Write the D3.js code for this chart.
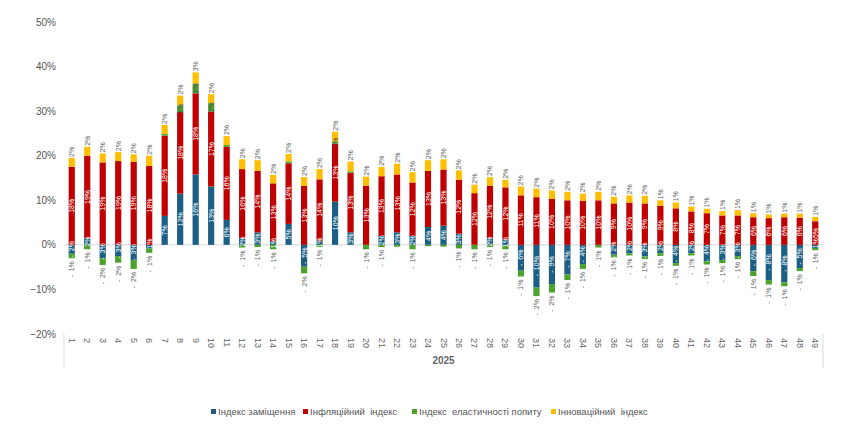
<!DOCTYPE html>
<html>
<head>
<meta charset="utf-8">
<script src="https://cdn.jsdelivr.net/npm/d3@7.9.0/dist/d3.min.js"></script>
<style>
  body { margin: 0; background: #fff; }
  text { font-family: "Liberation Sans", Arial, sans-serif; }
  .lbl { white-space: pre; }
</style>
</head>
<body>
<svg id="chart" width="850" height="428"></svg>
<script>
const weeks = ["1","2","3","4","5","6","7","8","9","10","11","12","13","14","15","16","17",
  "18","19","20","21","22","23","24","25","26","27","28","29","30","31","32","33","34",
  "35","36","37","38","39","40","41","42","43","44","45","46","47","48","49"];

// індекс заміщення
const zam = [-2, 1.5, -3, -2.5, -3.4, -0.8, 6.5, 11.5, 15.8, 13.1, 5.6, 1.5, 2.8, 0.8, 4.7, -4.9,
  1, 9.7, 2.8, 0, 2, 2.8, 2, 4, 4.3, 2.5, 0, 1.5, 1.2, -5.8, -9.6, -8.8, -6.6, -4.3, 0,
  -2.2, -1.9, -2.6, -1.9, -4.1, -1.9, -3.7, -3.4, -2.5, -5.9, -7.9, -8.4, -5.2, -0.7];
// інфляційний індекс
const infl = [17.5, 18.5, 18.5, 18.8, 18.6, 17.7, 18, 18.3, 18.2, 16.8, 16.4, 15.5, 13.8, 13, 13.6,
  13.2, 13.7, 13, 13.4, 13.3, 13.4, 13, 12, 12.6, 12.6, 12.1, 11.6, 11.8, 11.7, 11.1, 10.7,
  10.3, 10, 9.9, 10, 9.3, 9.5, 9.3, 8.8, 8.2, 7.5, 7.1, 6.6, 6.6, 6.2, 6, 6.2, 6.1, 5.3];
// індекс еластичності попиту
const elast = [-1, -1, -1.5, -1.5, -2, -1, 0.4, 1.5, 2.2, 1.9, 0.4, -0.6, -0.5, -1, 0.4, -1.5,
  -0.5, 0.5, 0.3, -1, -0.5, -0.4, -1, -0.3, -0.4, -0.8, -1, -0.5, -1, -1.3, -1.9, -1.9,
  -1.3, -1.1, -0.6, -0.6, -0.5, -0.6, -0.6, -0.6, -0.5, -0.7, -0.7, -0.7, -1.1, -1, -0.9, -0.7, -0.5];
// інноваційний індекс
const innov = [2, 2, 2, 2, 1.7, 2.3, 2, 2.2, 2.5, 2, 2, 2.2, 2.4, 1.9, 1.7, 2, 2.3, 2.2, 2.2, 2,
  2.1, 2.4, 2.3, 2.4, 2.3, 2.1, 1.9, 1.9, 1.7, 2, 1.9, 1.9, 1.9, 1.6, 1.9, 1.5, 1.6, 1.7,
  1.2, 1.3, 1.1, 1, 1, 1.2, 0.9, 0.8, 0.8, 0.9, 1];

const yTicks = [-20, -10, 0, 10, 20, 30, 40, 50];
const yearLabel = "2025";

const keys = ["zam", "infl", "elast", "innov"];
const names = {
  zam: "Індекс заміщення",
  infl: "Інфляційний  індекс",
  elast: "Індекс  еластичності попиту",
  innov: "Інноваційний  індекс"
};
const colors = { zam: "#1c5f85", infl: "#c00000", elast: "#4ca22d", innov: "#ffbf00" };

const rows = weeks.map((w, i) => ({
  week: w, zam: zam[i], infl: infl[i], elast: elast[i], innov: innov[i]
}));

const svg = d3.select("#chart");
const plotLeft = 64, plotRight = 823, plotTop = 22, plotBottom = 334;

const x = d3.scaleBand().domain(weeks).range([plotLeft, plotRight]).paddingInner(0.6).paddingOuter(0.3);
const y = d3.scaleLinear().domain([-20, 50]).range([plotBottom, plotTop]);

// y tick labels
svg.append("g").selectAll("text")
  .data(yTicks)
  .join("text")
  .attr("x", 56)
  .attr("y", (d) => y(d))
  .attr("dy", "0.35em")
  .attr("text-anchor", "end")
  .attr("font-size", 10)
  .attr("fill", "#555")
  .text((d) => d3.format("d")(d) + "%");

// zero line
svg.append("line")
  .attr("x1", plotLeft).attr("x2", plotRight)
  .attr("y1", y(0)).attr("y2", y(0))
  .attr("stroke", "#d6d6d6");

const series = d3.stack().keys(keys).offset(d3.stackOffsetDiverging)(rows);

svg.append("g").selectAll("g")
  .data(series)
  .join("g")
  .attr("fill", (s) => colors[s.key])
  .selectAll("rect")
  .data((s) => s)
  .join("rect")
  .attr("x", (d) => x(d.data.week))
  .attr("width", x.bandwidth())
  .attr("y", (d) => y(Math.max(d[0], d[1])))
  .attr("height", (d) => Math.abs(y(d[0]) - y(d[1])));

// data labels
const fmt = (v) => (v < 0 ? "-  " : "") + d3.format(".0f")(Math.abs(v)) + "%";
const labels = svg.append("g").attr("font-size", 7);
series.forEach((s) => {
  s.forEach((d) => {
    const v = d.data[s.key];
    if (Math.abs(v) < 0.5) return;
    const cx = x(d.data.week) + x.bandwidth() / 2;
    const y0 = y(Math.max(d[0], d[1]));
    const y1 = y(Math.min(d[0], d[1]));
    let ty, anchor, fill;
    if (s.key === "zam" || s.key === "infl") {
      ty = (y0 + y1) / 2; anchor = "middle"; fill = "#fff";
    } else if (s.key === "innov") {
      ty = y0 - 1; anchor = "start"; fill = "#666";
    } else if (v > 0) {
      ty = (y0 + y1) / 2; anchor = "middle"; fill = "#555";
    } else {
      ty = y1 + 3; anchor = "end"; fill = "#666";
    }
    labels.append("text")
      .attr("class", "lbl")
      .attr("transform", `translate(${cx + 2.5},${ty}) rotate(-90)`)
      .attr("text-anchor", anchor)
      .attr("fill", fill)
      .text(fmt(v));
  });
});

// category axis
svg.append("g").selectAll("text")
  .data(weeks)
  .join("text")
  .attr("transform", (d) => `translate(${x(d) + x.bandwidth() / 2 - 3},${338}) rotate(90)`)
  .attr("font-size", 9)
  .attr("fill", "#666")
  .text((d) => d);

[plotLeft, plotRight].forEach((lx) => {
  svg.append("line")
    .attr("x1", lx).attr("x2", lx)
    .attr("y1", plotBottom).attr("y2", 368)
    .attr("stroke", "#ddd");
});

svg.append("text")
  .attr("x", (plotLeft + plotRight) / 2)
  .attr("y", 364)
  .attr("text-anchor", "middle")
  .attr("font-size", 10)
  .attr("font-weight", "bold")
  .attr("fill", "#666")
  .text(yearLabel);

// legend
const legendX = [211, 303, 412, 551];
const legend = svg.append("g").attr("font-size", 9.5);
keys.forEach((k, i) => {
  legend.append("rect")
    .attr("x", legendX[i]).attr("y", 409)
    .attr("width", 5).attr("height", 5)
    .attr("fill", colors[k]);
  legend.append("text")
    .attr("class", "lbl")
    .attr("x", legendX[i] + 7).attr("y", 415)
    .attr("fill", "#555")
    .text(names[k]);
});
</script>
</body>
</html>
